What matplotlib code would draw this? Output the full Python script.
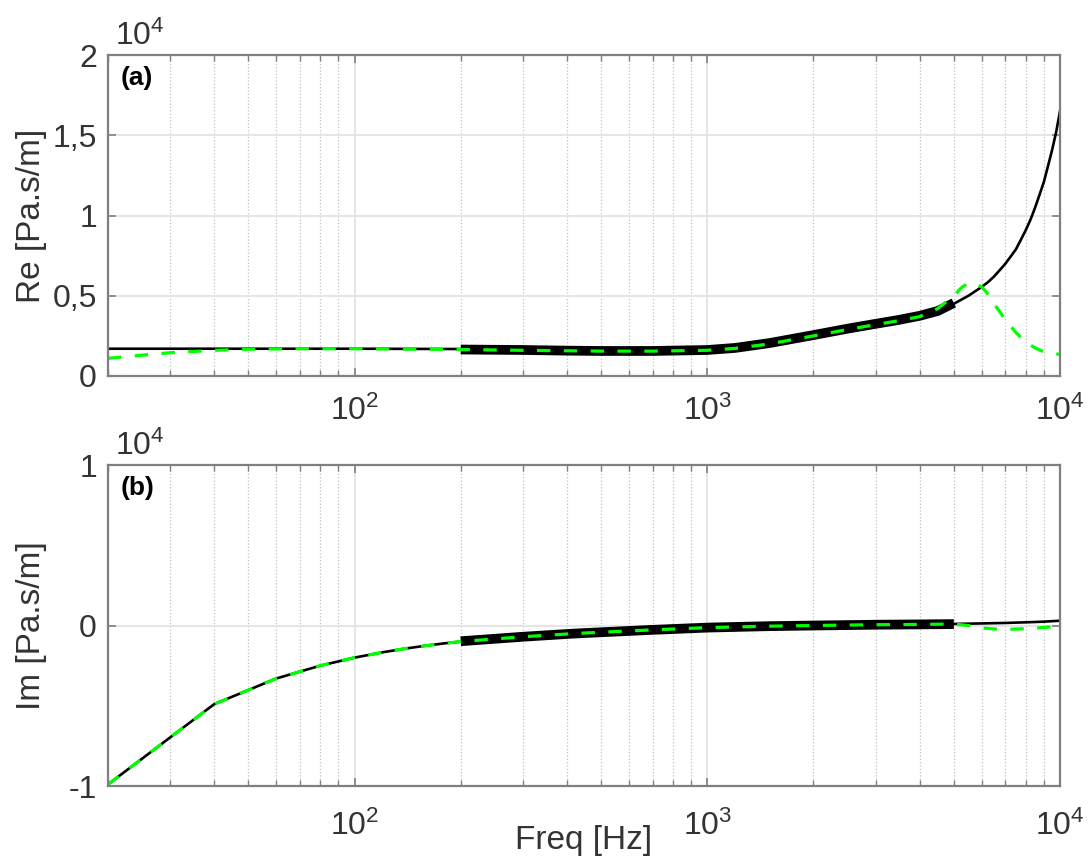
import matplotlib
matplotlib.use('Agg')
import matplotlib.pyplot as plt
import matplotlib.ticker as mticker

plt.rcParams['font.family'] = ['Liberation Sans', 'DejaVu Sans']
plt.rcParams['mathtext.fontset'] = 'custom'
plt.rcParams['mathtext.rm'] = 'Liberation Sans'
plt.rcParams['mathtext.it'] = 'Liberation Sans:italic'
plt.rcParams['mathtext.bf'] = 'Liberation Sans:bold'

# --- (a) real part, Pa.s/m ---
re_model_freq = [20, 50, 100, 200, 300, 500, 700, 1000, 1200, 1500, 2000, 2500, 3000,
                 3500, 4000, 4500, 5000, 5500, 6000, 6250, 6500, 6750, 7000, 7250, 7500,
                 7750, 8000, 8250, 8500, 8750, 9000, 9250, 9500, 9750, 10000]
re_model = [1700, 1700, 1700, 1680, 1650, 1600, 1600, 1650, 1800, 2100, 2600, 3000, 3300,
            3600, 3800, 4100, 4500, 5000, 5550, 5850, 6200, 6600, 7000, 7450, 7900,
            8500, 9100, 9750, 10500, 11300, 12100, 13100, 14100, 15200, 16500]

re_meas_freq = [200, 300, 400, 500, 700, 1000, 1200, 1500, 2000, 2500, 3000, 3500, 4000,
                4500, 5000]
re_meas = [1650, 1620, 1580, 1560, 1560, 1620, 1750, 2050, 2550, 2950, 3250, 3500, 3750,
           4050, 4550]

re_fit_freq = [20, 25, 30, 40, 50, 70, 100, 200, 300, 500, 700, 1000, 1200, 1500, 2000,
               2500, 3000, 3500, 4000, 4500, 5000, 5250, 5500, 5750, 6000, 6250, 6500,
               6750, 7000, 7250, 7500, 7750, 8000, 8500, 9000, 9500, 10000]
re_fit = [1100, 1300, 1450, 1600, 1670, 1700, 1700, 1650, 1600, 1550, 1550, 1600, 1720,
          2000, 2500, 2900, 3200, 3450, 3700, 4200, 5000, 5500, 5800, 5750, 5550, 5100,
          4500, 4000, 3500, 3100, 2700, 2400, 2100, 1750, 1500, 1400, 1350]

# --- (b) imaginary part, Pa.s/m ---
im_model_freq = [20, 40, 60, 80, 100, 120, 140, 160, 180, 200, 300, 420, 500, 700, 1000,
                 1500, 2000, 3000, 4000, 5000, 6000, 7000, 8000, 9000, 10000]
im_model = [-9900, -4900, -3300, -2500, -2000, -1670, -1430, -1250, -1110, -1000, -700,
            -500, -420, -270, -130, -40, 0, 50, 70, 100, 130, 160, 200, 240, 300]

im_meas_freq = [200, 300, 420, 500, 700, 1000, 1500, 2000, 3000, 4000, 5000]
im_meas = [-980, -700, -500, -420, -270, -130, -40, 0, 50, 70, 90]

im_fit_freq = [20, 40, 60, 80, 100, 120, 140, 160, 180, 200, 300, 420, 500, 700, 1000,
               1500, 2000, 3000, 4000, 5000, 5500, 6000, 6800, 8000, 9000, 10000]
im_fit = [-9900, -4900, -3300, -2500, -2000, -1670, -1430, -1250, -1110, -1000, -700,
          -500, -420, -270, -130, -40, 0, 50, 70, 90, 0, -150, -250, -200, -120, -50]


def style_axes(ax, ylim, yticks, xpad):
    ax.set_xscale('log')
    ax.set_xlim(20, 10000)
    ax.set_ylim(*ylim)
    ax.set_yticks(yticks)
    ax.yaxis.set_major_formatter(
        mticker.FuncFormatter(lambda v, p: f'{v / 1e4:g}'.replace('.', ',')))
    ax.xaxis.set_major_formatter(mticker.LogFormatterMathtext())
    ax.xaxis.set_minor_formatter(mticker.NullFormatter())
    ax.tick_params(which='both', direction='in', top=True, right=True,
                   colors='#7f7f7f', labelcolor='#333333', labelsize=23)
    ax.tick_params(which='major', length=6, width=1.2)
    ax.tick_params(which='minor', length=4, width=1.0)
    ax.tick_params(axis='x', which='major', pad=xpad)
    ax.tick_params(axis='y', which='major', pad=8)
    ax.grid(True, which='major', color='#e3e3e3', linewidth=1.3, linestyle='-')
    ax.grid(True, which='minor', axis='x', color='#c0c0c0', linewidth=0.9, linestyle=':')
    ax.set_axisbelow(True)
    for s in ax.spines.values():
        s.set_color('#7f7f7f')
        s.set_linewidth(1.6)
    ax.text(0.007, 1.03, r'$\mathregular{10^{4}}$', transform=ax.transAxes,
            fontsize=23, color='#333333', ha='left', va='baseline')


def draw(ax, mf, mv, tf, tv, ff, fv):
    ax.plot(mf, mv, color='black', linewidth=1.9)
    ax.plot(tf, tv, color='black', linewidth=7, solid_capstyle='butt')
    line, = ax.plot(ff, fv, color='#00ff00', linewidth=2.3)
    line.set_dashes((4.2, 4.2))


fig = plt.figure(figsize=(10.9, 8.61), dpi=100)
ax1 = fig.add_axes([0.0991, 0.5633, 0.8734, 0.3728])
ax2 = fig.add_axes([0.0991, 0.0871, 0.8734, 0.3728])

draw(ax1, re_model_freq, re_model, re_meas_freq, re_meas, re_fit_freq, re_fit)
style_axes(ax1, (0, 20000), [0, 5000, 10000, 15000, 20000], 14)
ax1.set_ylabel('Re [Pa.s/m]', fontsize=24, color='#333333')
ax1.yaxis.set_label_coords(-0.064, 0.5)
ax1.text(0.013, 0.965, '(a)', transform=ax1.transAxes, fontsize=19,
         fontweight='bold', ha='left', va='top')

draw(ax2, im_model_freq, im_model, im_meas_freq, im_meas, im_fit_freq, im_fit)
style_axes(ax2, (-10000, 10000), [-10000, 0, 10000], 18)
ax2.set_ylabel('Im [Pa.s/m]', fontsize=24, color='#333333')
ax2.yaxis.set_label_coords(-0.064, 0.5)
ax2.set_xlabel('Freq [Hz]', fontsize=24, color='#333333')
ax2.xaxis.set_label_coords(0.5, -0.12)
ax2.text(0.013, 0.965, '(b)', transform=ax2.transAxes, fontsize=19,
         fontweight='bold', ha='left', va='top')

fig.savefig('out.png', dpi=100)
